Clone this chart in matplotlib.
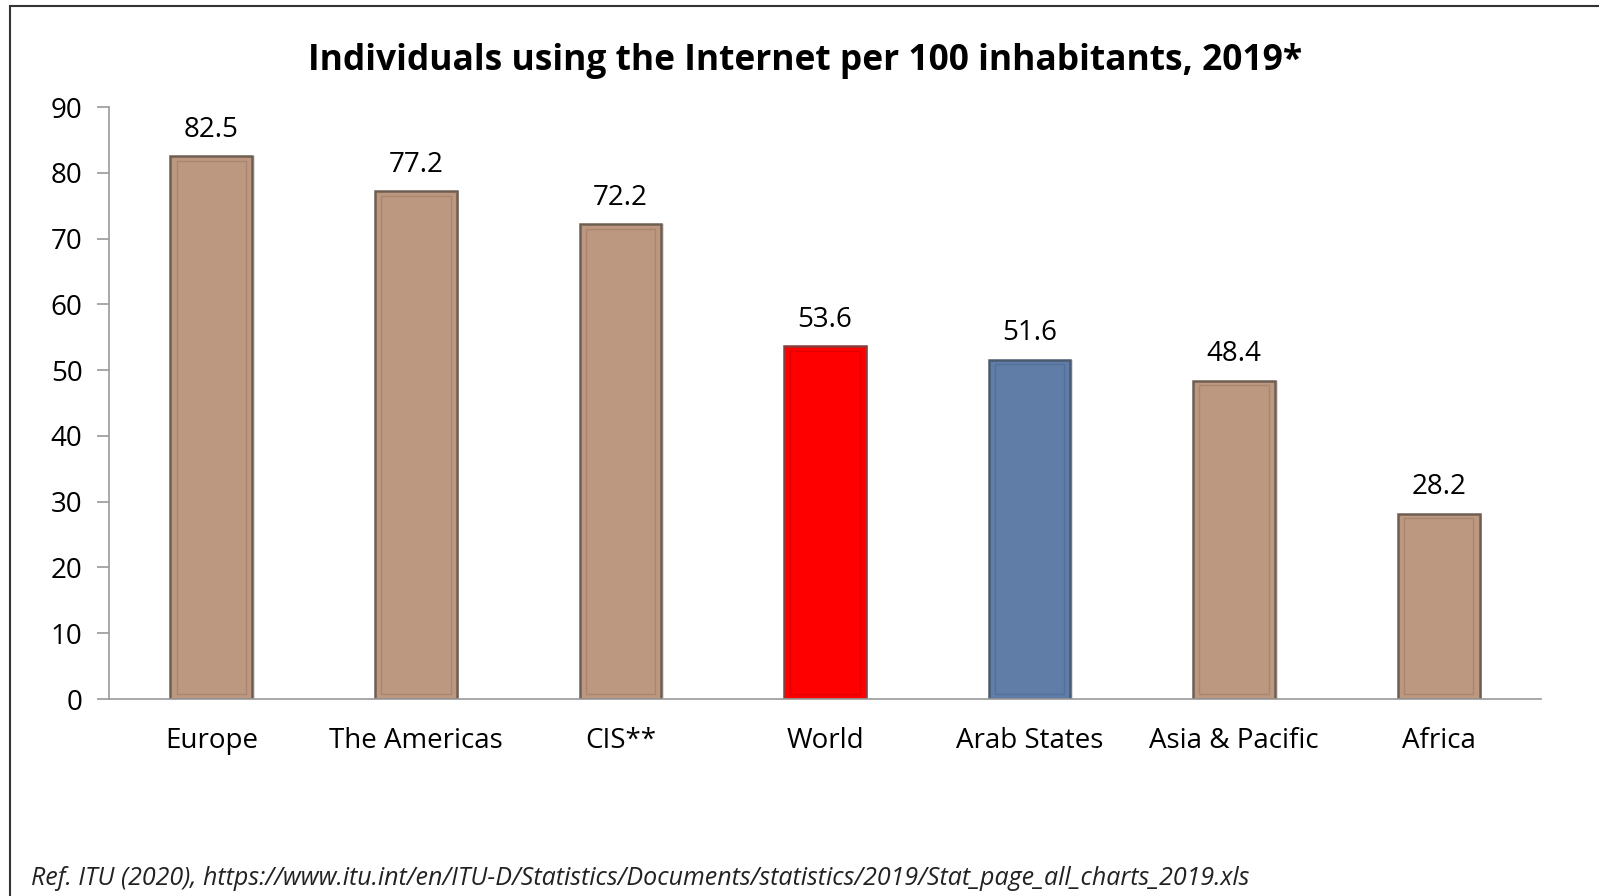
import matplotlib.pyplot as plt
from matplotlib.patches import Rectangle

regions = ["Europe", "The Americas", "CIS**", "World", "Arab States", "Asia & Pacific", "Africa"]
users_per_100 = [82.5, 77.2, 72.2, 53.6, 51.6, 48.4, 28.2]
bar_colors = ["#BC9880", "#BC9880", "#BC9880", "#FF0000", "#5F7DA7", "#BC9880", "#BC9880"]
edge_colors = ["#6E5E52", "#6E5E52", "#6E5E52", "#8A3A3A", "#4A5A70", "#6E5E52", "#6E5E52"]
inner_colors = ["#A9866F", "#A9866F", "#A9866F", "#E00000", "#52709A", "#A9866F", "#A9866F"]

plt.rcParams['font.family'] = ['Open Sans', 'DejaVu Sans']

fig = plt.figure(figsize=(15.99, 8.96), dpi=100)
W, H = 1599, 896
ax = fig.add_axes([109 / W, 1 - 699 / H, (1541 - 109) / W, (699 - 107) / H])

x = range(len(regions))
# subtle shadow
ax.bar([i + 0.012 for i in x], users_per_100, width=0.4, color="#00000022", zorder=1)
bars = ax.bar(x, users_per_100, width=0.4, color=bar_colors, edgecolor=edge_colors,
              linewidth=1.8, zorder=2)
# inner bevel line
ax.bar(x, [v - 1.5 for v in users_per_100], width=0.34, bottom=0.8, fill=False,
       edgecolor=inner_colors, linewidth=1.0, zorder=3)

for i, v in enumerate(users_per_100):
    ax.annotate(f"{v:.1f}", (i, v), xytext=(0, 9), textcoords="offset points",
                ha="center", va="bottom", fontsize=20)

ax.set_xlim(-0.5, len(regions) - 0.5)
ax.set_ylim(0, 90)
ax.set_yticks(range(0, 91, 10))
ax.set_xticks(list(x))
ax.set_xticklabels(regions)
ax.tick_params(axis="y", labelsize=20, length=9, color="#999999", width=1.2, pad=10)
ax.tick_params(axis="x", labelsize=20, length=0, pad=20)
for s in ["top", "right"]:
    ax.spines[s].set_visible(False)
ax.spines["left"].set_color("#999999")
ax.spines["bottom"].set_color("#999999")
ax.spines["left"].set_linewidth(1.2)
ax.spines["bottom"].set_linewidth(1.2)

fig.text(805 / W, 1 - 61 / H, "Individuals using the Internet per 100 inhabitants, 2019*",
         ha="center", va="center", fontsize=25.5, fontweight="bold")
fig.text(31 / W, 1 - 878 / H,
         "Ref. ITU (2020), https://www.itu.int/en/ITU-D/Statistics/Documents/statistics/2019/Stat_page_all_charts_2019.xls",
         ha="left", va="center", fontsize=18, style="italic", color="#222222")

fig.patches.append(Rectangle((10 / W, -0.1), 1.2, 1 - 6 / H + 0.1, transform=fig.transFigure,
                             fill=False, edgecolor="#333333", linewidth=1.5))

fig.savefig("out.png", dpi=100)
